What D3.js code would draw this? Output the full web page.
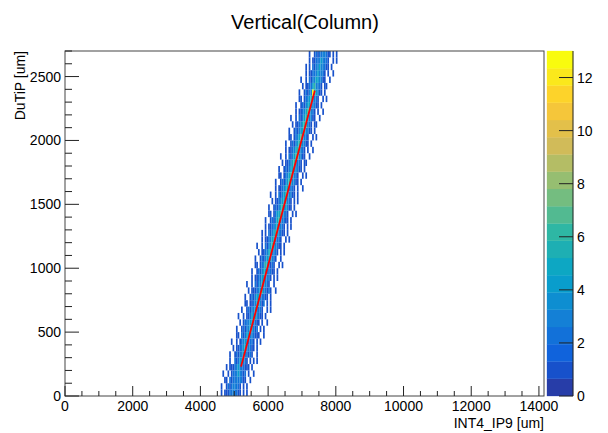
<!DOCTYPE html>
<html>
<head>
<meta charset="utf-8">
<script src="https://cdn.jsdelivr.net/npm/d3@7"></script>
<style>
  body { margin: 0; background: #fff; }
  text { font-family: "Liberation Sans", Arial, Helvetica, sans-serif; fill: #000; }
</style>
</head>
<body>
<div id="chart"></div>
<script>
const width = 608;
const height = 433;

const title = "Vertical(Column)";
const xTitle = "INT4_IP9 [um]";
const yTitle = "DuTiP [um]";

const xDomain = [0, 14150];
const yDomain = [0, 2700];
const zDomain = [0, 13];
const binW = 50;   // um per x bin
const binH = 50;   // um per y bin

const xTicks = [0, 2000, 4000, 6000, 8000, 10000, 12000, 14000];
const yTicks = [0, 500, 1000, 1500, 2000, 2500];
const zTicks = [0, 2, 4, 6, 8, 10, 12];

// first x bin of every y row (row 0 = bottom)
const rowStart = [
  90, 91, 92, 93, 94, 95, 96, 97, 98, 99,
  100, 101, 102, 103, 104, 105, 106, 107, 108, 109,
  110, 111, 112, 113, 114, 115, 116, 117, 118, 119,
  120, 121, 122, 123, 124, 125, 126, 127, 128, 129,
  130, 131, 132, 133, 134, 135, 136, 137, 138, 139,
  140, 141, 142, 143
];

// bin contents of each row, one base-36 character per bin
const rowCounts = [
  "00101112232211010100",
  "01001212332210101000",
  "00110212232321100100",
  "10010122343212010010",
  "01011123432211101000",
  "00100212443210101010",
  "01001213343212100100",
  "00101122453321101000",
  "10010123432221010100",
  "00110212443321110010",
  "01001213354312010100",
  "00101223443211010010",
  "10010112435321101000",
  "01001213343221001010",
  "00110112354312010100",
  "01001213453221101000",
  "00101112346321210010",
  "10010213354321001000",
  "00101122443321010100",
  "01001213543221101000",
  "00110123653121001010",
  "01001213454321001000",
  "00101123563321010100",
  "10010213464321101000",
  "00101123553221001010",
  "01010213465321101000",
  "00101122454321010100",
  "01001213563321101000",
  "00110124574321001010",
  "01001213563431101000",
  "00101123455321010100",
  "10010213464331101000",
  "00101123553221010010",
  "01001213465331101000",
  "00110123565321001010",
  "01001213454331101000",
  "00101123563221011000",
  "10010213467331100100",
  "00101123564321010010",
  "01001213465331101000",
  "00110123574321001010",
  "01001213456331101000",
  "00101123567321011000",
  "10010213464331100100",
  "00101123575321010010",
  "01001213454331101000",
  "00110123463321001010",
  "010012133d5431101000",
  "00101122463321011000",
  "10010213354331100100",
  "00101122343321010010",
  "01010213353321101000",
  "00101122343221001010",
  "01001212233211010100"
];

// linear fit drawn on top
const fitX = [5200, 7380];
const fitY = [230, 2390];

// ROOT kBird palette
const birdStops = [0.0, 0.125, 0.25, 0.375, 0.5, 0.625, 0.75, 0.875, 1.0];
const birdR = [0.2082, 0.0592, 0.0780, 0.0232, 0.1802, 0.5301, 0.8186, 0.9956, 0.9764];
const birdG = [0.1664, 0.3599, 0.5041, 0.6419, 0.7178, 0.7492, 0.7328, 0.7862, 0.9832];
const birdB = [0.5293, 0.8684, 0.8385, 0.7914, 0.6425, 0.4662, 0.3499, 0.1968, 0.0539];

const nColors = 255;
const nLevels = 20;

const frame = { left: 65, right: 544, top: 51, bottom: 396 };
const bar = { left: 547, right: 573 };

const x = d3.scaleLinear().domain(xDomain).range([frame.left, frame.right]);
const y = d3.scaleLinear().domain(yDomain).range([frame.bottom, frame.top]);
const z = d3.scaleLinear().domain(zDomain).range([frame.bottom, frame.top]);

const birdScale = d3.scaleLinear().domain(birdStops)
  .range(birdStops.map((s, i) => d3.rgb(birdR[i] * 255, birdG[i] * 255, birdB[i] * 255)));

function levelColor(k) {
  const idx = Math.floor((k + 0.99) * nColors / nLevels);
  return birdScale(Math.min(idx, nColors - 1) / (nColors - 1));
}
const dz = (zDomain[1] - zDomain[0]) / nLevels;
function cellColor(v) {
  const k = Math.min(nLevels - 1, Math.floor((v - zDomain[0]) / dz));
  return levelColor(k);
}

const cells = [];
rowCounts.forEach((s, j) => {
  [...s].forEach((c, i) => {
    const v = parseInt(c, 36);
    if (v > 0) cells.push({ bin: rowStart[j] + i, row: j, v });
  });
});

const svg = d3.create("svg")
  .attr("width", width)
  .attr("height", height)
  .attr("viewBox", [0, 0, width, height]);

svg.append("text")
  .attr("x", 305)
  .attr("y", 29)
  .attr("text-anchor", "middle")
  .attr("font-size", 20)
  .text(title);

// histogram cells
svg.append("g")
  .selectAll("rect")
  .data(cells)
  .join("rect")
  .attr("x", d => x(d.bin * binW))
  .attr("y", d => y((d.row + 1) * binH))
  .attr("width", x(binW) - x(0))
  .attr("height", y(0) - y(binH))
  .attr("fill", d => cellColor(d.v));

// fit
svg.append("line")
  .attr("x1", x(fitX[0])).attr("y1", y(fitY[0]))
  .attr("x2", x(fitX[1])).attr("y2", y(fitY[1]))
  .attr("stroke", "#ff0000")
  .attr("stroke-width", 1.8);

// frame
svg.append("rect")
  .attr("x", frame.left)
  .attr("y", frame.top)
  .attr("width", frame.right - frame.left)
  .attr("height", frame.bottom - frame.top)
  .attr("fill", "none")
  .attr("stroke", "#444")
  .attr("stroke-width", 1);

// x axis ticks (inside)
const axes = svg.append("g").attr("stroke", "#222").attr("stroke-width", 1);
d3.range(0, xDomain[1] + 1, 500).forEach(v => {
  const major = v % 2000 === 0;
  axes.append("line")
    .attr("x1", x(v)).attr("x2", x(v))
    .attr("y1", frame.bottom).attr("y2", frame.bottom - (major ? 10 : 5));
});
d3.range(0, yDomain[1] + 1, 100).forEach(v => {
  const major = v % 500 === 0;
  axes.append("line")
    .attr("x1", frame.left).attr("x2", frame.left + (major ? 14 : 7))
    .attr("y1", y(v)).attr("y2", y(v));
});

svg.append("g")
  .attr("font-size", 14)
  .attr("text-anchor", "middle")
  .selectAll("text")
  .data(xTicks)
  .join("text")
  .attr("x", d => x(d))
  .attr("y", 411)
  .text(d => d);

svg.append("g")
  .attr("font-size", 14)
  .attr("text-anchor", "end")
  .selectAll("text")
  .data(yTicks)
  .join("text")
  .attr("x", 61)
  .attr("y", d => y(d))
  .attr("dy", "0.36em")
  .text(d => d);

svg.append("text")
  .attr("x", frame.right)
  .attr("y", 428)
  .attr("text-anchor", "end")
  .attr("font-size", 14)
  .text(xTitle);

svg.append("text")
  .attr("transform", `translate(25, ${frame.top}) rotate(-90)`)
  .attr("text-anchor", "end")
  .attr("font-size", 14)
  .text(yTitle);

// colour bar
const levels = d3.range(nLevels);
svg.append("g")
  .selectAll("rect")
  .data(levels)
  .join("rect")
  .attr("x", bar.left)
  .attr("width", bar.right - bar.left)
  .attr("y", k => z(zDomain[0] + (k + 1) * dz))
  .attr("height", k => z(zDomain[0] + k * dz) - z(zDomain[0] + (k + 1) * dz))
  .attr("fill", k => levelColor(k))
  .attr("stroke", k => levelColor(k))
  .attr("stroke-width", 0.3);

svg.append("line")
  .attr("x1", bar.right).attr("x2", bar.right)
  .attr("y1", frame.top).attr("y2", frame.bottom)
  .attr("stroke", "#222");

svg.append("g")
  .attr("stroke", "#222")
  .selectAll("line")
  .data(zTicks)
  .join("line")
  .attr("x1", bar.right - 14).attr("x2", bar.right)
  .attr("y1", d => z(d)).attr("y2", d => z(d));

svg.append("g")
  .attr("font-size", 14)
  .selectAll("text")
  .data(zTicks)
  .join("text")
  .attr("x", 577)
  .attr("y", d => z(d))
  .attr("dy", "0.36em")
  .text(d => d);

document.getElementById("chart").appendChild(svg.node());
</script>
</body>
</html>
